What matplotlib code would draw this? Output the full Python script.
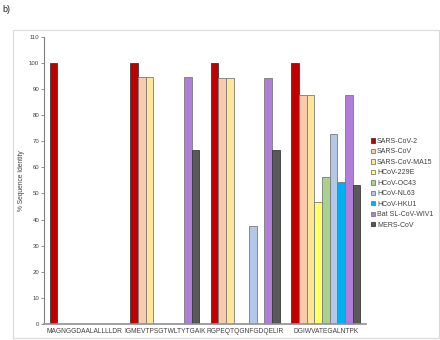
import matplotlib
matplotlib.use("Agg")
import matplotlib.pyplot as plt
from matplotlib.patches import Rectangle
import numpy as np

peptides = ["MAGNGGDAALALLLLDR", "IGMEVTPSGTWLTYTGAIK", "RGPEQTQGNFGDQELIR", "DGIWVATEGALNTPK"]
series = ["SARS-CoV-2", "SARS-CoV", "SARS-CoV-MA15", "HCoV-229E", "HCoV-OC43",
          "HCoV-NL63", "HCoV-HKU1", "Bat SL-CoV-WIV1", "MERS-CoV"]
colors = ["#C00000", "#F8CBAD", "#FFE699", "#FFFF66", "#A9D18E",
          "#B4C7E7", "#00B0F0", "#B07ED8", "#595959"]
sars_cov2 = [100, 100, 100, 100]
sars_cov = [0, 94.7, 94.1, 87.5]
sars_ma15 = [0, 94.7, 94.1, 87.5]
hcov_229e = [0, 0, 0, 46.6]
hcov_oc43 = [0, 0, 0, 56.3]
hcov_nl63 = [0, 0, 37.5, 72.8]
hcov_hku1 = [0, 0, 0, 54.5]
bat_wiv1 = [0, 94.7, 94.1, 87.5]
mers = [0, 66.7, 66.7, 53.3]
values = [sars_cov2, sars_cov, sars_ma15, hcov_229e, hcov_oc43,
          hcov_nl63, hcov_hku1, bat_wiv1, mers]
yticks = list(range(0, 111, 10))

plt.rcParams['font.family'] = ['Liberation Sans', 'DejaVu Sans']

W, H = 440, 340
fig = plt.figure(figsize=(4.4, 3.4), dpi=100)
fig.patches.append(Rectangle((13 / W, 1 - 338 / H), (439 - 13) / W, (338 - 30) / H,
                             transform=fig.transFigure, fill=False,
                             edgecolor="#DADADA", linewidth=0.8))
ax = fig.add_axes([44 / W, 1 - 324 / H, (366 - 44) / W, (324 - 36.7) / H])

x = np.arange(len(peptides))
n = len(series)
bw = 0.857 / n
handles = []
for i, (name, vals, c) in enumerate(zip(series, values, colors)):
    pos = x - 0.857 / 2 + bw * (i + 0.5)
    ec = "#3a3a3a" if i in (0, 8) else "#7a7a7a"
    h = ax.bar(pos, vals, width=bw, color=c, edgecolor=ec, linewidth=0.6, label=name)
    handles.append(h)

ax.set_xlim(-0.5, len(peptides) - 0.5)
ax.set_ylim(0, 110)
ax.set_yticks(yticks)
ax.set_yticklabels([str(t) for t in yticks], fontsize=4.3, color="#404040")
ax.set_xticks(x)
ax.set_xticklabels(peptides, fontsize=4.8, color="#404040")
ax.tick_params(axis='x', length=0, pad=3)
ax.tick_params(axis='y', length=2, width=0.6, color="#808080", pad=1.5)
for s in ("top", "right"):
    ax.spines[s].set_visible(False)
ax.spines["left"].set_color("#808080")
ax.spines["left"].set_linewidth(0.8)
ax.spines["bottom"].set_color("#909090")
ax.spines["bottom"].set_linewidth(1.2)
ax.set_ylabel("% Sequence Identity", fontsize=4.8, color="#404040", labelpad=9)
ax.yaxis.set_label_coords(-19 / (366 - 44), 0.5)

fig.legend(handles=handles, labels=series, loc="upper left",
           bbox_to_anchor=(371 / W, 1 - 138 / H), bbox_transform=fig.transFigure,
           fontsize=5, frameon=False, handlelength=0.55, handleheight=0.55,
           handletextpad=0.3, labelspacing=0.5, borderaxespad=0, borderpad=0,
           labelcolor="#404040")

fig.text(2 / W, 1 - 10 / H, "b)", fontsize=6.5, color="#222222", va="center", ha="left")

fig.savefig("out.png", dpi=100)
